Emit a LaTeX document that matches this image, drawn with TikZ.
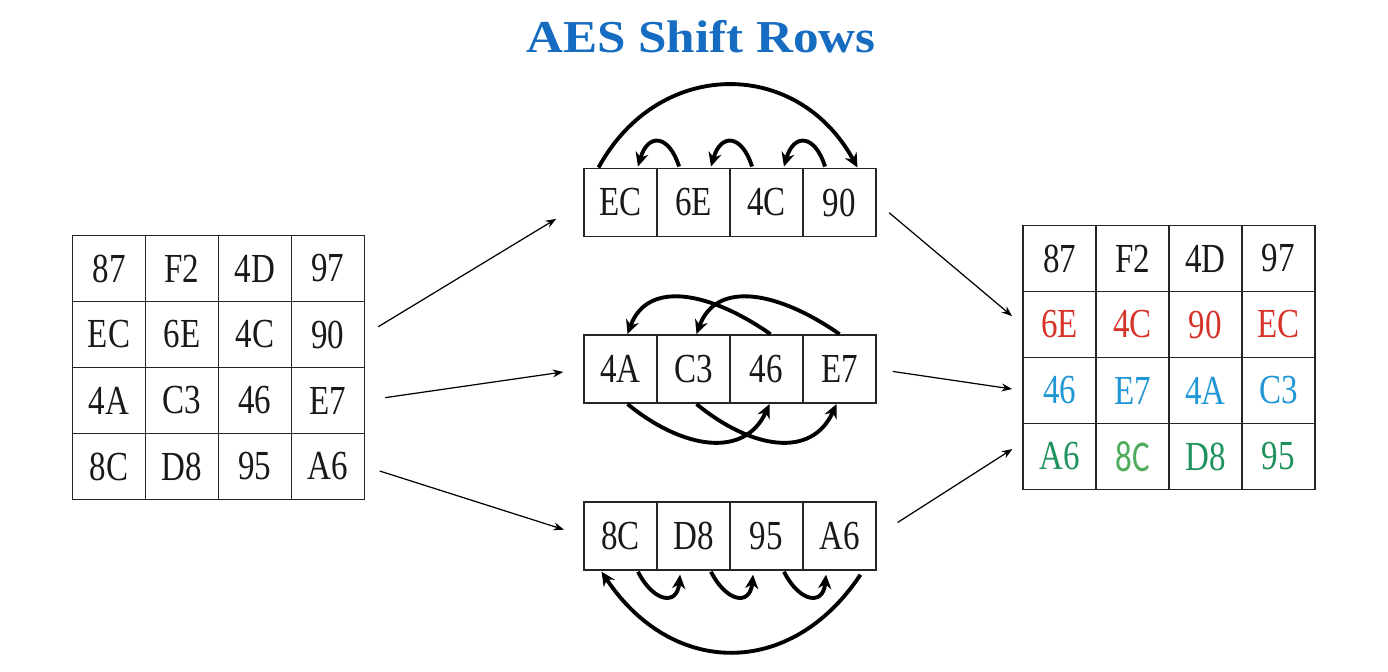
\documentclass[tikz,border=0pt]{standalone}
\usepackage{fontspec}
\setmainfont{Liberation Serif}
\newfontfamily\cellfont{Liberation Serif}[FakeStretch=0.8]
\newfontfamily\titlefont{Liberation Serif}[FakeStretch=1.12]
\newfontfamily\oddfont{Carlito}[FakeStretch=0.75]
\usepackage{tikz}
\usetikzlibrary{calc}
\usetikzlibrary{arrows.meta}
\usetikzlibrary{matrix}
\usetikzlibrary{positioning}

\definecolor{titleblue}{RGB}{22,108,192}
\definecolor{rowred}{RGB}{214,52,42}
\definecolor{rowblue}{RGB}{32,150,212}
\definecolor{rowgreen}{RGB}{30,146,92}
\definecolor{oddgreen}{RGB}{78,172,92}

\tikzset{
  cell/.style={rectangle,draw=black!85,line width=1.1pt,text=black!90,anchor=center,
    minimum width=1.46cm,minimum height=1.32cm,inner sep=0pt,
    font=\cellfont\fontsize{23.5}{28}\selectfont},
  grid/.style={matrix of nodes,nodes={cell},column sep=-1.1pt,row sep=-1.1pt,inner sep=0pt},
  strip/.style={grid,nodes={minimum height=1.36cm}},
  swing/.style={line width=2.2pt,-{Stealth[length=8pt,width=7.5pt]}},
  feed/.style={line width=0.7pt,-{Stealth[length=6pt,width=4.5pt]}},
}

\begin{document}
\begin{tikzpicture}[x=0.02cm,y=-0.02cm]
      \useasboundingbox (0,0) rectangle (1388,672);
      \node[anchor=base,text=titleblue,font=\titlefont\bfseries\fontsize{26}{30}\selectfont] (title) at (701,53) {AES Shift Rows};

      % state before and after
      \matrix (L) [grid] at (218.5,367.5) {
        87 & F2 & 4D & 97 \\
        EC & 6E & 4C & 90 \\
        4A & C3 & 46 & E7 \\
        8C & D8 & 95 & A6 \\
      };
      \matrix (R) [grid, row 2/.style={nodes={text=rowred}}, row 3/.style={nodes={text=rowblue}},
                   row 4/.style={nodes={text=rowgreen}}] at (1169,357.5) {
        87 & F2 & 4D & 97 \\
        6E & 4C & 90 & EC \\
        46 & E7 & 4A & C3 \\
        A6 & |[text=oddgreen,font=\oddfont\fontsize{25}{28}\selectfont]| 8C & D8 & 95 \\
      };

      % rows being shifted
      \matrix (top) [strip] at (730,202.5) { EC & 6E & 4C & 90 \\ };
      \matrix (mid) [strip, below=1.92cm of top] { 4A & C3 & 46 & E7 \\ };
      \matrix (bot) [strip, below=1.92cm of mid] { 8C & D8 & 95 & A6 \\ };

      \draw[feed, shorten <=0.3cm, shorten >=0.63cm] (L-2-4.east) -- (top-1-1.west);
      \draw[feed, shorten <=0.4cm, shorten >=0.4cm] (L-3-4.east) -- (mid-1-1.west);
      \draw[feed, shorten <=0.3cm, shorten >=0.4cm] (L-4-4.east) -- (bot-1-1.west);
      \draw[feed, shorten <=0.32cm, shorten >=0.26cm] (top-1-4.east) -- (R-2-1.west);
      \draw[feed, shorten <=0.32cm, shorten >=0.2cm] (mid-1-4.east) -- (R-3-1.west);
      \draw[feed, shorten <=0.49cm, shorten >=0.23cm] (bot-1-4.east) -- (R-4-1.160);

      % row 2: one step left
      \foreach \a/\b in {2/1,3/2,4/3}
        \draw[swing] ($(top-1-\a.north west)+(23,-1)$) .. controls +(-10,-32) and +(10,-34) .. ($(top-1-\b.north east)+(-20,-1)$);
      \draw[swing] ($(top-1-1.north)+(-22,0)$) .. controls +(60,-110) and +(-60,-110) .. ($(top-1-4.north)+(18,0)$);

      % row 3: two steps
      \draw[swing] ($(mid-1-3.north)+(4,0)$) .. controls +(-60,-42) and +(20,-55) .. ($(mid-1-1.north)+(7,0)$);
      \draw[swing] ($(mid-1-4.north)+(0,0)$) .. controls +(-60,-42) and +(20,-55) .. ($(mid-1-2.north)+(3,0)$);
      \draw[swing] ($(mid-1-1.south)+(7,0)$) .. controls +(55,45) and +(-25,55) .. ($(mid-1-3.south)+(3,0)$);
      \draw[swing] ($(mid-1-2.south)+(3,0)$) .. controls +(55,45) and +(-25,55) .. ($(mid-1-4.south)+(-3,0)$);

      % row 4: three steps
      \foreach \a/\b in {1/2,2/3,3/4}
        \draw[swing] ($(bot-1-\a.south east)+(-20,1)$) .. controls +(15,30) and +(-3,32) .. ($(bot-1-\b.south west)+(24,4)$);
      \draw[swing] ($(bot-1-4.south)+(21,4)$) .. controls +(-70,105) and +(70,105) .. ($(bot-1-1.south)+(-19,1)$);
    \end{tikzpicture}
\end{document}
